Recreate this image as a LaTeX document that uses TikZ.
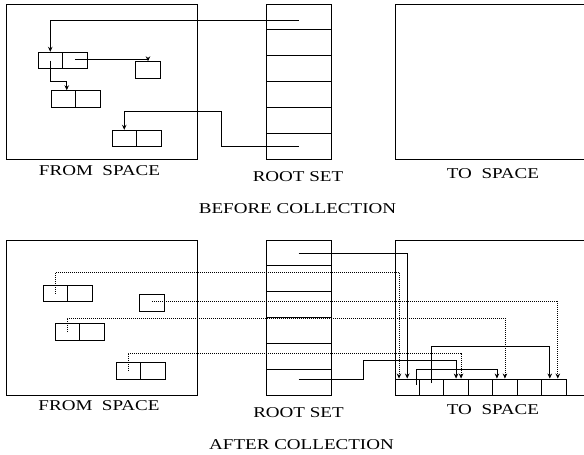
\documentclass[tikz,border=0pt]{standalone}
\usepackage{fontspec}
\setmainfont{Liberation Serif}
\usepackage{graphicx}
\usetikzlibrary{arrows.meta,calc}
\newcommand\wlab[1]{\scalebox{1.27}[1]{#1}}
\tikzset{
 area/.style={draw, line width=0.9pt, inner sep=0pt, minimum width=191pt, minimum height=155pt},
 tarea/.style={draw, line width=0.9pt, inner sep=0pt, minimum width=195pt, minimum height=155pt},
 rcell/.style={draw, line width=0.9pt, inner sep=0pt, minimum width=65pt, minimum height=25.833pt},
 obj/.style={draw, line width=0.9pt, inner sep=0pt, minimum width=24.5pt, minimum height=16.5pt},
 tcell/.style={draw, line width=0.9pt, inner sep=0pt, minimum width=24.43pt, minimum height=16pt},
 ptr/.style={line width=0.8pt, -{Stealth[length=5pt,width=4.5pt]}},
 fwd/.style={ptr, dash pattern=on 0.9pt off 1.1pt},
 lbl/.style={inner sep=0pt, font=\fontsize{15}{15}\selectfont},
}
\begin{document}
\begin{tikzpicture}[x=1pt,y=-1pt]
\useasboundingbox (0,0) rectangle (584,455);
\clip (0,0) rectangle (584,455);
% ---------- BEFORE ----------
\node[area] (from1) at (101.5,81.5) {};
\node[tarea] (to1) at (492.5,81.5) {};
\foreach \i in {1,...,6} \node[rcell] (r\i) at (298.5,{4+25.833*(\i-0.5)}) {};
\node[obj] (aL) at (50.25,60.5) {};
\node[obj] (aR) at (74.75,60.5) {};
\node[obj] (B) at (148,70) {};
\node[obj] (cL) at (63.25,99) {};
\node[obj] (cR) at (87.75,99) {};
\node[obj] (dL) at (124.25,138.5) {};
\node[obj] (dR) at (148.75,138.5) {};
\draw[ptr] ([yshift=-3pt]r1.center) -| (aL.north);
\draw[ptr] ([yshift=1.5pt]aR.center) -| (B.north);
\draw[ptr] (aL.center) -- ++(0,20.5) -| ([xshift=3.5pt]cL.north);
\draw[ptr] (r6.center) -| (221,111) -| (dL.north);
\node[lbl] (lf1) at (99.5,171) {\wlab{FROM\ \ SPACE}};
\node[lbl] (lr1) at (298,177) {\wlab{ROOT SET}};
\node[lbl] (lt1) at (493,173.5) {\wlab{TO\ \ SPACE}};
\node[lbl] (lb) at (297.5,209) {\wlab{BEFORE COLLECTION}};
% ---------- AFTER ----------
\node[area] (from2) at (101.5,317.5) {};
\node[tarea] (to2) at (492.5,317.5) {};
\foreach \i in {1,...,6} \node[rcell] (s\i) at (298.5,{240+25.833*(\i-0.5)}) {};
\foreach \i in {1,...,7} \node[tcell] (t\i) at ({395+24.43*(\i-0.5)},387) {};
\node[obj] (aL2) at (55.25,293.5) {};
\node[obj] (aR2) at (79.75,293.5) {};
\node[obj] (B2) at (152,303) {};
\node[obj] (cL2) at (67.25,332) {};
\node[obj] (cR2) at (91.75,332) {};
\node[obj] (dL2) at (128.25,371) {};
\node[obj] (dR2) at (152.75,371) {};
% forwarding pointers (dotted)
\draw[fwd] (aL2.center) -- ++(0,-21.5) -| ([xshift=-8.2pt]t1.north);
\draw[fwd] ([yshift=2pt]B2.center) -| ([xshift=4pt]t7.north);
\draw[fwd] (cL2.center) -- ++(0,-14) -| (t5.north);
\draw[fwd] (dL2.center) -- ++(0,-18) -| ([xshift=5pt]t3.north);
% root pointers
\draw[ptr] (s1.center) -| (t1.north);
\draw[ptr] ([yshift=3pt]s6.center) -| (363,360) -| (t3.north);
% internal pointers in to-space
\draw[ptr] ([shift={(8.8pt,2pt)}]t1.center) -- ++(0,-16) -| ([xshift=-8pt]t5.north);
\draw[ptr] ([yshift=4pt]t2.center) -- ++(0,-37) -| ([xshift=-4pt]t7.north);
\node[lbl] (lf2) at (99,406) {\wlab{FROM\ \ SPACE}};
\node[lbl] (lr2) at (298.5,413) {\wlab{ROOT SET}};
\node[lbl] (lt2) at (493,409.5) {\wlab{TO\ \ SPACE}};
\node[lbl] (la) at (301.5,445) {\wlab{AFTER COLLECTION}};
\end{tikzpicture}
\end{document}
